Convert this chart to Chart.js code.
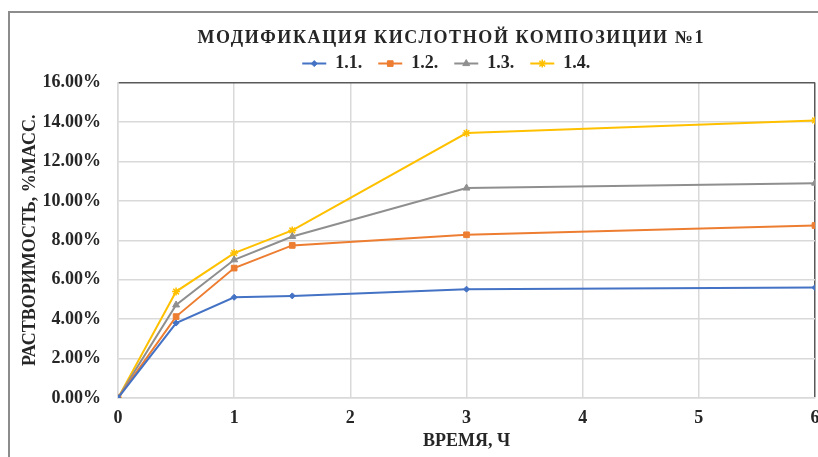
<!DOCTYPE html>
<html>
<head>
<meta charset="utf-8">
<script src="https://cdn.jsdelivr.net/npm/chart.js@4/dist/chart.umd.min.js"></script>
<style>
  html, body { margin: 0; padding: 0; background: #fff; overflow: hidden; }
  #wrap { position: relative; width: 818px; height: 457px; overflow: hidden; }
  #frame { position: absolute; left: 8px; top: 11px; width: 900px; height: 500px; border: 2px solid #8c8c8c; }
  #box { position: absolute; left: 0; top: 0; width: 840px; height: 452px; }
</style>
</head>
<body>
<div id="wrap">
  <div id="frame"></div>
  <div id="box"><canvas id="myChart" width="840" height="452"></canvas></div>
</div>
<script>
// time, h
var hours = [0, 0.5, 1, 1.5, 3, 6];
// solubility, % mass
var s11 = [0, 3.80, 5.11, 5.18, 5.52, 5.60];
var s12 = [0, 4.13, 6.59, 7.74, 8.28, 8.75];
var s13 = [0, 4.72, 7.01, 8.19, 10.65, 10.90];
var s14 = [0, 5.40, 7.35, 8.50, 13.44, 14.08];
var seriesNames = ["1.1.", "1.2.", "1.3.", "1.4."];
var seriesColors = ["#4472C4", "#ED7D31", "#8f8f8f", "#FFC000"];
var seriesMarkers = ["rectRot", "rect", "triangle", "star"];
var yTicks = [0, 2, 4, 6, 8, 10, 12, 14, 16];

var font = "'Liberation Serif', 'Times New Roman', serif";
var txt = "#262626";

function pts(vals) {
  var out = [];
  for (var i = 0; i < hours.length; i++) {
    out.push({x: hours[i], y: vals[i]});
  }
  return out;
}

var allVals = [s11, s12, s13, s14];
var datasets = [];
for (var i = 0; i < allVals.length; i++) {
  datasets.push({
    label: seriesNames[i],
    data: pts(allVals[i]),
    borderColor: seriesColors[i],
    backgroundColor: seriesColors[i],
    borderWidth: 2,
    pointStyle: seriesMarkers[i],
    pointRadius: i == 0 ? 3 : 4,
    pointBorderWidth: i == 3 ? 1.5 : 1,
    tension: 0
  });
}

//spaced-out title letters like the original
var titleSpacing = {
  id: 'titleSpacing',
  beforeDraw: function(chart) {
    var tb = chart.titleBlock;
    if (!tb || tb._spaced) return;
    var origDraw = tb.draw;
    tb.draw = function() {
      var c = this.ctx;
      c.save();
      c.letterSpacing = '1.6px';
      origDraw.apply(this, arguments);
      c.restore();
    };
    tb._spaced = true;
  }
};

//draw marker on top of the legend line
var legendMarkers = {
  id: 'legendMarkers',
  afterDraw: function(chart) {
    var lg = chart.legend;
    if (!lg || !lg.legendHitBoxes) return;
    var ctx = chart.ctx;
    var bw = lg.options.labels.boxWidth;
    lg.legendHitBoxes.forEach(function(hb, i) {
      var ds = chart.data.datasets[i];
      ctx.save();
      ctx.fillStyle = ds.backgroundColor;
      ctx.strokeStyle = ds.borderColor;
      ctx.lineWidth = ds.pointBorderWidth;
      Chart.helpers.drawPoint(ctx, {
        pointStyle: ds.pointStyle,
        radius: ds.pointRadius,
        borderWidth: ds.pointBorderWidth,
        rotation: 0
      }, hb.left + bw / 2, hb.top + hb.height / 2);
      ctx.restore();
    });
  }
};

var ctx = document.getElementById('myChart').getContext('2d');
var chart = new Chart(ctx, {
  type: 'line',
  data: { datasets: datasets },
  plugins: [titleSpacing, legendMarkers],
  options: {
    responsive: false,
    animation: false,
    layout: { padding: { left: 20, right: 25, top: 0, bottom: 0 } },
    plugins: {
      title: {
        display: true,
        fullSize: false,
        // trailing spaces pull the centred title a bit to the left
        text: "МОДИФИКАЦИЯ КИСЛОТНОЙ КОМПОЗИЦИИ №1     ",
        color: txt,
        font: { family: font, size: 18, weight: 'bold' },
        padding: { top: 28, bottom: -2 },
        align: 'center'
      },
      legend: {
        display: true,
        fullSize: false,
        labels: {
          color: txt,
          font: { family: font, size: 18, weight: 'bold' },
          boxWidth: 24,
          boxHeight: 2,
          padding: 7,
          generateLabels: function(c) {
            return c.data.datasets.map(function(ds, i) {
              return {
                text: ds.label + (i == 3 ? "         " : "  "),
                fillStyle: ds.borderColor,
                strokeStyle: ds.borderColor,
                lineWidth: 0,
                datasetIndex: i,
                fontColor: txt
              };
            });
          }
        }
      },
      tooltip: { enabled: false }
    },
    scales: {
      x: {
        type: 'linear',
        min: 0,
        max: 6,
        afterFit: function(s) { s.height = 452 - 398; },
        ticks: {
          stepSize: 1,
          color: txt,
          font: { family: font, size: 18, weight: 'bold' },
          padding: 10
        },
        grid: {
          color: function(c) { return c.tick && c.tick.value === 6 ? '#595959' : '#d9d9d9'; },
          lineWidth: 1.5,
          drawTicks: false
        },
        border: { color: '#d9d9d9', width: 1.5 },
        title: {
          display: true,
          text: "ВРЕМЯ, Ч",
          color: txt,
          font: { family: font, size: 18, weight: 'bold' },
          padding: { top: 0, bottom: 0 }
        }
      },
      y: {
        min: 0,
        max: 16,
        afterFit: function(s) { s.width = 118 - 20; },
        afterBuildTicks: function(s) {
          s.ticks = yTicks.map(function(v) { return {value: v}; });
        },
        ticks: {
          color: txt,
          font: { family: font, size: 18, weight: 'bold' },
          padding: 17,
          callback: function(v) { return v.toFixed(2) + '%'; }
        },
        grid: {
          color: function(c) { return c.tick && c.tick.value === 16 ? '#595959' : '#d9d9d9'; },
          lineWidth: 1.5,
          drawTicks: false
        },
        border: { color: '#d9d9d9', width: 1.5 },
        title: {
          display: true,
          text: "РАСТВОРИМОСТЬ, %МАСС.",
          color: txt,
          font: { family: font, size: 18, weight: 'bold' },
          padding: { top: 0, bottom: 0 }
        }
      }
    }
  }
});
console.log(JSON.stringify(chart.chartArea));
</script>
</body>
</html>
